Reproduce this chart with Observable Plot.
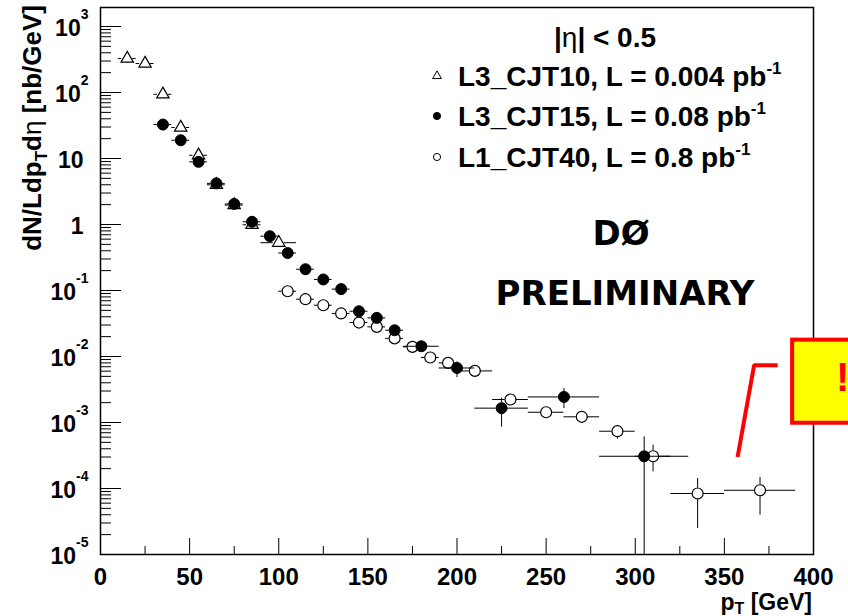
<!DOCTYPE html>
<html>
<head>
<meta charset="utf-8">
<script src="https://cdn.jsdelivr.net/npm/d3@7"></script>
<script src="https://cdn.jsdelivr.net/npm/@observablehq/plot@0.6"></script>
<style>
  html, body { margin: 0; padding: 0; background: #ffffff; }
  #chart svg { display: block; }
</style>
</head>
<body>
<div id="chart"></div>
<script>
// ---- Inclusive jet spectrum, |eta| < 0.5, three trigger samples ----

// L3_CJT10 (open triangles): bin centre, bin edges, dN/(L dpT deta) [nb/GeV]
const cjt10Pt  = [15, 25, 35, 45, 55, 65, 75, 85, 100];
const cjt10Lo  = [10, 20, 30, 40, 50, 60, 70, 80, 90];
const cjt10Hi  = [20, 30, 40, 50, 60, 70, 80, 90, 110];
const cjt10Val = [327, 275, 94, 29.5, 11.2, 4.0, 1.97, 0.99, 0.53];
const cjt10Up  = [327, 275, 94, 29.5, 11.2, 4.0, 1.97, 0.99, 0.53];
const cjt10Dn  = [327, 275, 94, 29.5, 11.2, 4.0, 1.97, 0.99, 0.53];

// L3_CJT15 (filled circles)
const cjt15Pt  = [35, 45, 55, 65, 75, 85, 95, 105, 115, 125, 135, 145, 155, 165, 180, 200, 225, 260, 305];
const cjt15Lo  = [30, 40, 50, 60, 70, 80, 90, 100, 110, 120, 130, 140, 150, 160, 170, 190, 210, 240, 280];
const cjt15Hi  = [40, 50, 60, 70, 80, 90, 100, 110, 120, 130, 140, 150, 160, 170, 190, 210, 240, 280, 330];
const cjt15Val = [32.7, 18.9, 8.9, 4.2, 2.05, 1.1, 0.665, 0.37, 0.21, 0.147, 0.105, 0.0485, 0.0385, 0.025, 0.0143, 0.0067, 0.00165, 0.00244, 0.000308];
const cjt15Up  = [32.7, 18.9, 8.9, 4.2, 2.05, 1.1, 0.665, 0.37, 0.21, 0.147, 0.105, 0.0485, 0.0385, 0.025, 0.0143, 0.0083, 0.00233, 0.00327, 0.000605];
const cjt15Dn  = [32.7, 18.9, 8.9, 4.2, 2.05, 1.1, 0.665, 0.37, 0.21, 0.147, 0.105, 0.0485, 0.0385, 0.025, 0.0143, 0.0048, 0.00085, 0.00163, 0.00001];

// L1_CJT40 (open circles)
const cjt40Pt  = [105, 115, 125, 135, 145, 155, 165, 175, 185, 195, 210, 230, 250, 270, 290, 310, 335, 370];
const cjt40Lo  = [100, 110, 120, 130, 140, 150, 160, 170, 180, 190, 200, 220, 240, 260, 280, 300, 320, 350];
const cjt40Hi  = [110, 120, 130, 140, 150, 160, 170, 180, 190, 200, 220, 240, 260, 280, 300, 320, 350, 390];
const cjt40Val = [0.0975, 0.0738, 0.0598, 0.0449, 0.0327, 0.0281, 0.0188, 0.014, 0.00966, 0.0080, 0.00605, 0.00223, 0.00143, 0.00122, 0.000738, 0.000308, 0.000084, 0.000094];
const cjt40Up  = [0.0975, 0.0738, 0.0598, 0.0449, 0.0327, 0.0281, 0.0188, 0.014, 0.00966, 0.0080, 0.00605, 0.00223, 0.00143, 0.00122, 0.000887, 0.000453, 0.000142, 0.000147];
const cjt40Dn  = [0.0975, 0.0738, 0.0598, 0.0449, 0.0327, 0.0281, 0.0188, 0.014, 0.00966, 0.0080, 0.00605, 0.00223, 0.00143, 0.00122, 0.000558, 0.000179, 0.0000248, 0.0000394];

// Legend text
const legendHeader = ["|", "η", "| < 0.5"];
const seriesLabels = ["L3_CJT10, L = 0.004 pb", "L3_CJT15, L = 0.08 pb", "L1_CJT40, L = 0.8 pb"];
const lumiExponent = "-1";

// Axis ticks
const yExponents = [-5, -4, -3, -2, -1, 0, 1, 2, 3];
const xTickValues = [0, 50, 100, 150, 200, 250, 300, 350, 400];
const xMinorValues = [25, 75, 125, 175, 225, 275, 325, 375];

// Callout (yellow box with leader line)
const calloutBox = [{x1: 388.3, x2: 440, y1: 0.000975, y2: 0.0177}];
const calloutLeader = [{x: 379.9, y: 0.00738}, {x: 366.7, y: 0.00738}, {x: 357.4, y: 0.000300}];
const calloutMark = [{x: 416.3, y: 0.00465, text: "!"}];

// ---- layout ----
const W = 848, H = 616;
const M = {top: 7, right: 35, bottom: 62, left: 100};
const frameW = W - M.left - M.right;
const frameH = H - M.top - M.bottom;
const Y_MIN = 1e-5, Y_MAX = 1941;
const FONT = "'Liberation Sans', Arial, Helvetica, sans-serif";

const rowsOf = (pt, lo, hi, v, up, dn) =>
  pt.map((p, i) => ({pt: p, lo: lo[i], hi: hi[i], v: v[i], up: up[i], dn: dn[i]}));
const sCJT10 = rowsOf(cjt10Pt, cjt10Lo, cjt10Hi, cjt10Val, cjt10Up, cjt10Dn);
const sCJT15 = rowsOf(cjt15Pt, cjt15Lo, cjt15Hi, cjt15Val, cjt15Up, cjt15Dn);
const sCJT40 = rowsOf(cjt40Pt, cjt40Lo, cjt40Hi, cjt40Val, cjt40Up, cjt40Dn);

const yMajor = yExponents.map(e => Math.pow(10, e));
const yMinor = [];
for (const e of yExponents) for (let k = 2; k <= 9; k++) {
  const v = k * Math.pow(10, e);
  if (v < Y_MAX) yMinor.push(v);
}

// error bars start at the marker edge, as in ROOT
function errorBars(rows, gap) {
  const bar = {stroke: "#000", strokeWidth: 1};
  return [
    Plot.ruleY(rows, {y: "v", x1: "lo", x2: "pt", insetRight: gap, ...bar}),
    Plot.ruleY(rows, {y: "v", x1: "pt", x2: "hi", insetLeft: gap, ...bar}),
    Plot.ruleX(rows.filter(d => d.up > d.v), {x: "pt", y1: "up", y2: "v", insetBottom: gap, ...bar}),
    Plot.ruleX(rows.filter(d => d.dn < d.v), {x: "pt", y1: "v", y2: "dn", insetTop: gap, clip: true, ...bar})
  ];
}

const expLabel = v => {
  const e = Math.round(Math.log10(v));
  return e === 0 ? "1" : e === 1 ? "10" : "10^" + e;
};

const plot = Plot.plot({
  width: W, height: H,
  marginTop: M.top, marginRight: M.right, marginBottom: M.bottom, marginLeft: M.left,
  style: {fontFamily: FONT, background: "#ffffff", color: "#000"},
  x: {domain: [0, 400]},
  y: {type: "log", domain: [Y_MIN, Y_MAX]},
  marks: [
    Plot.frame({stroke: "#000", strokeWidth: 1.5}),
    // inward ticks
    Plot.ruleY(yMajor, {y: d => d, insetRight: frameW - 21, stroke: "#000", strokeWidth: 1}),
    Plot.ruleY(yMinor, {y: d => d, insetRight: frameW - 11, stroke: "#000", strokeWidth: 1}),
    Plot.ruleX(xTickValues, {x: d => d, insetTop: frameH - 16, stroke: "#000", strokeWidth: 1}),
    Plot.ruleX(xMinorValues, {x: d => d, insetTop: frameH - 8, stroke: "#000", strokeWidth: 1}),
    Plot.axisY({ticks: yMajor, tickSize: 0, tickPadding: 12, tickFormat: expLabel, label: null,
                fontSize: 23, fontWeight: "bold", dy: 2}),
    Plot.axisX({ticks: xTickValues, tickSize: 0, tickPadding: 13, tickFormat: d => String(d), label: null,
                fontSize: 24, fontWeight: "bold"}),
    // data
    ...errorBars(sCJT10, 5.5),
    ...errorBars(sCJT15, 5.5),
    ...errorBars(sCJT40, 5.5),
    Plot.dot(sCJT10, {x: "pt", y: "v", symbol: "triangle", r: 4.6, fill: "none", stroke: "#000", strokeWidth: 1.2}),
    Plot.dot(sCJT40, {x: "pt", y: "v", r: 5.5, fill: "none", stroke: "#000", strokeWidth: 1.2}),
    Plot.dot(sCJT15, {x: "pt", y: "v", r: 5.5, fill: "#000", stroke: "#000", strokeWidth: 1}),
    // callout
    Plot.rect(calloutBox, {x1: "x1", x2: "x2", y1: "y1", y2: "y2", fill: "#ffff00", stroke: "#ff0000", strokeWidth: 4}),
    Plot.line(calloutLeader, {x: "x", y: "y", stroke: "#ff0000", strokeWidth: 4, strokeLinecap: "butt", strokeLinejoin: "miter"}),
    Plot.text(calloutMark, {x: "x", y: "y", text: "text", fill: "#ff0000", fontSize: 40, fontWeight: "bold"})
  ]
});

const svg = d3.select(plot);

// exponent tick labels: 10^n with a raised exponent
svg.selectAll('g[aria-label="y-axis tick label"] text').each(function () {
  const t = d3.select(this);
  const [base, exp] = t.text().split("^");
  t.text(null);
  t.append("tspan").text(base);
  if (exp !== undefined) t.append("tspan").attr("dy", -17).attr("font-size", 14).text(exp);
  else t.attr("dx", -5);
});

const bold = sel => sel.attr("font-family", FONT).attr("font-weight", "bold").attr("fill", "#000");

// y-axis title
const yTitle = bold(svg.append("text"))
  .attr("transform", "translate(41,5) rotate(-90)")
  .attr("text-anchor", "end").attr("font-size", 26);
yTitle.append("tspan").text("dN/Ldp");
yTitle.append("tspan").attr("font-size", 17).attr("dy", 6).text("T");
yTitle.append("tspan").attr("dy", -6).text("d");
yTitle.append("tspan").attr("font-weight", "normal").text("η");
yTitle.append("tspan").text(" [nb/GeV]");

// x-axis title
const xTitle = bold(svg.append("text"))
  .attr("x", 812).attr("y", 610).attr("text-anchor", "end").attr("font-size", 23);
xTitle.append("tspan").text("p");
xTitle.append("tspan").attr("font-size", 16).attr("dy", 4).text("T");
xTitle.append("tspan").attr("dy", -4).text(" [GeV]");

// legend
const head = bold(svg.append("text")).attr("x", 605).attr("y", 47).attr("text-anchor", "middle").attr("font-size", 28);
head.append("tspan").text(legendHeader[0]);
head.append("tspan").attr("font-weight", "normal").text(legendHeader[1]);
head.append("tspan").text(legendHeader[2]);

const legendRowsY = [86, 126, 167];
const legendSymbols = [
  {type: d3.symbolTriangle, size: 34, fill: "none"},
  {type: d3.symbolCircle, size: 40, fill: "#000"},
  {type: d3.symbolCircle, size: 40, fill: "none"}
];
seriesLabels.forEach((label, i) => {
  const yb = legendRowsY[i];
  svg.append("path")
    .attr("d", d3.symbol(legendSymbols[i].type, legendSymbols[i].size)())
    .attr("transform", `translate(437,${yb - 10})`)
    .attr("fill", legendSymbols[i].fill).attr("stroke", "#000").attr("stroke-width", 1);
  const t = bold(svg.append("text")).attr("x", 458).attr("y", yb)
    .attr("text-anchor", "start").attr("font-size", 28);
  t.append("tspan").text(label);
  t.append("tspan").attr("font-size", 17).attr("dy", -12).text(lumiExponent);
});

// experiment stamp
svg.append("text").attr("x", 621).attr("y", 245).attr("text-anchor", "middle")
  .attr("font-family", "'DejaVu Sans', Verdana, sans-serif").attr("font-weight", "bold")
  .attr("font-size", 34).text("DØ");
svg.append("text").attr("x", 625).attr("y", 305).attr("text-anchor", "middle")
  .attr("font-family", "'DejaVu Sans', Verdana, sans-serif").attr("font-weight", "bold")
  .attr("font-size", 34).text("PRELIMINARY");

document.getElementById("chart").appendChild(plot);
</script>
</body>
</html>
